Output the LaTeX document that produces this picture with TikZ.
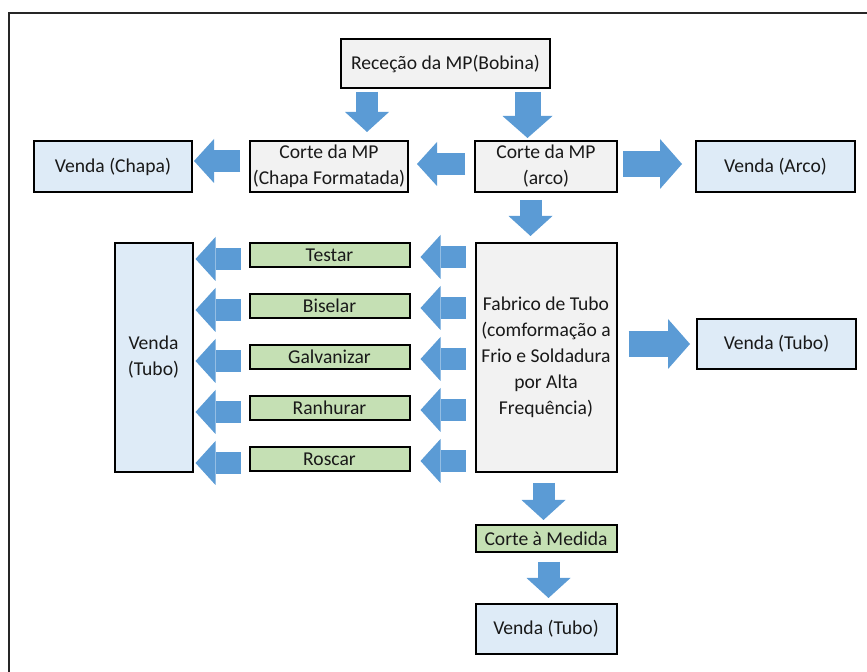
\documentclass[tikz,border=0pt]{standalone}
\usepackage{fontspec}
\setmainfont{Carlito}
\usepackage{tikz}
\definecolor{boxgray}{RGB}{242,242,242}
\definecolor{boxblue}{RGB}{222,235,247}
\definecolor{boxgreen}{RGB}{197,224,180}
\definecolor{arrowblue}{RGB}{91,155,213}
\usetikzlibrary{arrows.meta,positioning,calc}

\begin{document}
\begin{tikzpicture}[
    x=0.5pt, y=-0.5pt,
    box/.style={rectangle, draw=black, line width=1pt, text=black!90, align=center, inner sep=0pt, font=\fontsize{9.8}{13}\selectfont},
    graybox/.style={box, fill=boxgray},
    bluebox/.style={box, fill=boxblue},
    greenbox/.style={box, fill=boxgreen, minimum width=80pt, minimum height=12pt},
    arrow/.style={line width=11pt, draw=arrowblue, -{Triangle[length=10pt, width=22pt, line width=0pt]}},
    bigarrow/.style={line width=13pt, draw=arrowblue, -{Triangle[length=11pt, width=25pt, line width=0pt]}}
]
\useasboundingbox (0,0) rectangle (867,672);
\draw[line width=1pt, black!85] (8.5,700) |- (900,13);

\node[graybox, minimum width=104.5pt, minimum height=24.5pt] (recv) at (445.5,63.5) {Receção da MP(Bobina)};
\node[graybox, minimum width=71pt, minimum height=25.5pt] (carco) at (546,166.5) {Corte da MP\\(arco)};
\node[graybox, minimum width=79pt, minimum height=25.5pt, left=32.5pt of carco] (cchapa) {Corte da MP\\(Chapa Formatada)};
\node[bluebox, minimum width=79pt, minimum height=25.5pt, left=28pt of cchapa] (vchapa) {Venda (Chapa)};
\node[bluebox, minimum width=79.5pt, minimum height=25.5pt, right=38.5pt of carco] (varco) {Venda (Arco)};

\node[graybox, minimum width=70.5pt, minimum height=114.5pt, below=24.5pt of carco] (fabrico) {Fabrico de Tubo\\(comformação a\\Frio e Soldadura\\por Alta\\Frequência)};
\node[bluebox, minimum width=79.5pt, minimum height=25pt] (vtubob) at (776.5,344) {Venda (Tubo)};
\node[greenbox, minimum width=70.5pt, minimum height=13.5pt, below=25.5pt of fabrico] (medida) {Corte à Medida};
\node[bluebox, minimum width=70.5pt, minimum height=25pt, below=25pt of medida] (vtuboc) {Venda (Tubo)};

\node[greenbox, anchor=north east] (testar) at ([xshift=-32pt]fabrico.north west) {Testar};
\node[greenbox, below=12.5pt of testar] (biselar) {Biselar};
\node[greenbox, below=12.5pt of biselar] (galv) {Galvanizar};
\node[greenbox, below=12.5pt of galv] (ranhurar) {Ranhurar};
\node[greenbox, below=12.5pt of ranhurar] (roscar) {Roscar};
\node[bluebox, minimum width=39pt, minimum height=114.5pt, anchor=north east] (vtuboa) at ([xshift=-27.5pt]testar.north west) {Venda\\(Tubo)};

% top part
\draw[arrow, shorten <=1.5pt, shorten >=4pt] ([xshift=19pt]cchapa.north |- recv.south) -- ([xshift=19pt]cchapa.north);
\draw[bigarrow, shorten <=1.5pt, shorten >=1pt] ([xshift=-9.25pt]carco.north |- recv.south) -- ([xshift=-9.25pt]carco.north);
\draw[arrow, shorten <=4.5pt, shorten >=0.5pt] ([yshift=2.75pt]cchapa.west) -- ([yshift=2.75pt]vchapa.east);
\draw[arrow, shorten <=4.5pt, shorten >=4pt] ([yshift=1.25pt]carco.west) -- ([yshift=1.25pt]cchapa.east);
\draw[bigarrow, shorten <=2.5pt, shorten >=6.5pt] ([yshift=1.25pt]carco.east) -- ([yshift=1.25pt]varco.west);
\draw[arrow, shorten <=3.5pt, shorten >=3pt] ([xshift=-7.75pt]carco.south) -- ([xshift=-7.75pt]carco.south |- fabrico.north);

% tube operations
\draw[arrow, shorten <=4.5pt, shorten >=5pt] ([yshift=-1pt]fabrico.west |- testar.east) -- ([yshift=-1pt]testar.east);
\draw[arrow, shorten <=4.5pt, shorten >=5pt] ([yshift=-1pt]fabrico.west |- biselar.east) -- ([yshift=-1pt]biselar.east);
\draw[arrow, shorten <=4.5pt, shorten >=5pt] ([yshift=-1pt]fabrico.west |- galv.east) -- ([yshift=-1pt]galv.east);
\draw[arrow, shorten <=4.5pt, shorten >=5pt] ([yshift=-1pt]fabrico.west |- ranhurar.east) -- ([yshift=-1pt]ranhurar.east);
\draw[arrow, shorten <=4.5pt, shorten >=5pt] ([yshift=-1pt]fabrico.west |- roscar.east) -- ([yshift=-1pt]roscar.east);
\draw[arrow, shorten <=4pt, shorten >=1pt] ([yshift=-2pt]testar.west) -- ([yshift=-2pt]testar.west -| vtuboa.east);
\draw[arrow, shorten <=4pt, shorten >=1pt] ([yshift=-2pt]biselar.west) -- ([yshift=-2pt]biselar.west -| vtuboa.east);
\draw[arrow, shorten <=4pt, shorten >=1pt] ([yshift=-2pt]galv.west) -- ([yshift=-2pt]galv.west -| vtuboa.east);
\draw[arrow, shorten <=4pt, shorten >=1pt] ([yshift=-2pt]ranhurar.west) -- ([yshift=-2pt]ranhurar.west -| vtuboa.east);
\draw[arrow, shorten <=4pt, shorten >=1pt] ([yshift=-2pt]roscar.west) -- ([yshift=-2pt]roscar.west -| vtuboa.east);

% bottom part
\draw[bigarrow, shorten <=5.5pt, shorten >=3pt] (fabrico.east |- vtubob.west) -- (vtubob.west);
\draw[arrow, shorten <=5pt, shorten >=2pt] ([xshift=-1.25pt]fabrico.south) -- ([xshift=-1.25pt]medida.north);
\draw[arrow, shorten <=4.5pt, shorten >=2.5pt] ([xshift=1.25pt]medida.south) -- ([xshift=1.25pt]vtuboc.north);

\end{tikzpicture}
\end{document}
